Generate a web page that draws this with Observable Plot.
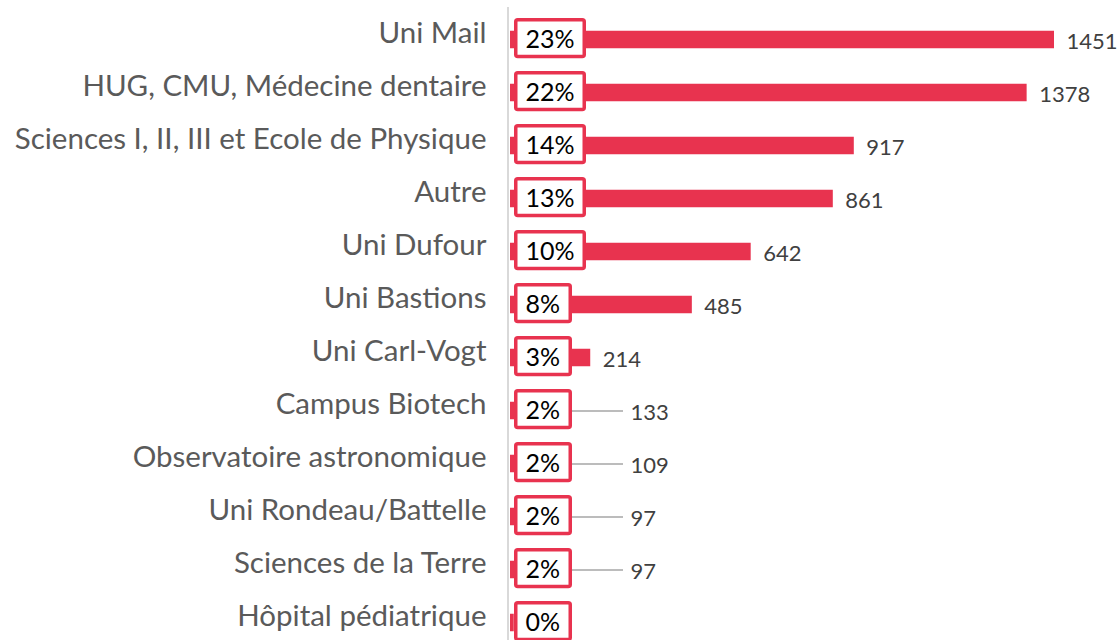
<!DOCTYPE html>
<html><head><meta charset="utf-8">
<script src="https://cdn.jsdelivr.net/npm/d3@7"></script>
<script src="https://cdn.jsdelivr.net/npm/@observablehq/plot@0.6"></script>
<style>html,body{margin:0;padding:0;background:#fff;overflow:hidden} svg{display:block}</style>
</head><body><div id="chart"></div>
<script>
const sites = ["Uni Mail","HUG, CMU, Médecine dentaire","Sciences I, II, III et Ecole de Physique","Autre","Uni Dufour","Uni Bastions","Uni Carl-Vogt","Campus Biotech","Observatoire astronomique","Uni Rondeau/Battelle","Sciences de la Terre","Hôpital pédiatrique"];
const counts = [1451, 1378, 917, 861, 642, 485, 214, 133, 109, 97, 97, 10];
const shares = ["23%","22%","14%","13%","10%","8%","3%","2%","2%","2%","2%","0%"];
const showLabel = [true,true,true,true,true,true,true,true,true,true,true,false];

const rows = sites.map((s, i) => ({site: s, count: counts[i], share: shares[i], show: showLabel[i]}));
const RED = "#E8334F";
const LEADER = 150; // labels of bars shorter than this get a leader line

const big = rows.filter(d => d.show && d.count >= LEADER);
const small = rows.filter(d => d.show && d.count < LEADER);
const wide = rows.filter(d => d.share.length > 2);
const narrow = rows.filter(d => d.share.length <= 2);

const chart = Plot.plot({
  width: 1117, height: 652,
  marginLeft: 510, marginRight: 63, marginTop: 10, marginBottom: 0,
  style: {fontFamily: "Lato, sans-serif", background: "#fff"},
  x: {domain: [0, 1451], axis: null},
  y: {domain: sites, axis: null, padding: 0},
  marks: [
    Plot.ruleX([0], {stroke: "#d9d9d9", strokeWidth: 2, dx: -2.5, insetTop: -3}),
    Plot.barX(rows, {x: "count", y: "site", fill: RED, insetTop: 17.75, insetBottom: 17.75}),
    Plot.barX(wide, {x1: d => 0, x2: d => 0, y: "site", fill: "#fff", stroke: RED, strokeWidth: 3.5, rx: 2,
      insetLeft: 5.75, insetRight: -74.25, insetTop: 6.75, insetBottom: 9.5}),
    Plot.barX(narrow, {x1: d => 0, x2: d => 0, y: "site", fill: "#fff", stroke: RED, strokeWidth: 3.5, rx: 2,
      insetLeft: 5.75, insetRight: -60.25, insetTop: 6.75, insetBottom: 9.5}),
    Plot.text(rows, {x: d => 0, y: "site", text: "share", textAnchor: "start", dx: 15, dy: -0.5, fontSize: 25, fill: "#000"}),
    Plot.ruleY(small, {y: "site", x1: d => 0, x2: d => 0, insetLeft: 62, insetRight: -113, stroke: "#a6a6a6", strokeWidth: 1.5}),
    Plot.text(small, {x: d => 0, y: "site", text: d => String(d.count), textAnchor: "start", dx: 120, dy: 2, fontSize: 22, fill: "#404040"}),
    Plot.text(big, {x: "count", y: "site", text: d => String(d.count), textAnchor: "start", dx: 12, dy: 2, fontSize: 22, fill: "#404040"}),
    Plot.text(rows, {x: d => 0, y: "site", text: "site", textAnchor: "end", dx: -24, dy: -6.5, fontSize: 29.5, fill: "#5a5a5a"})
  ]
});
document.getElementById("chart").appendChild(chart);
</script>
</body></html>
